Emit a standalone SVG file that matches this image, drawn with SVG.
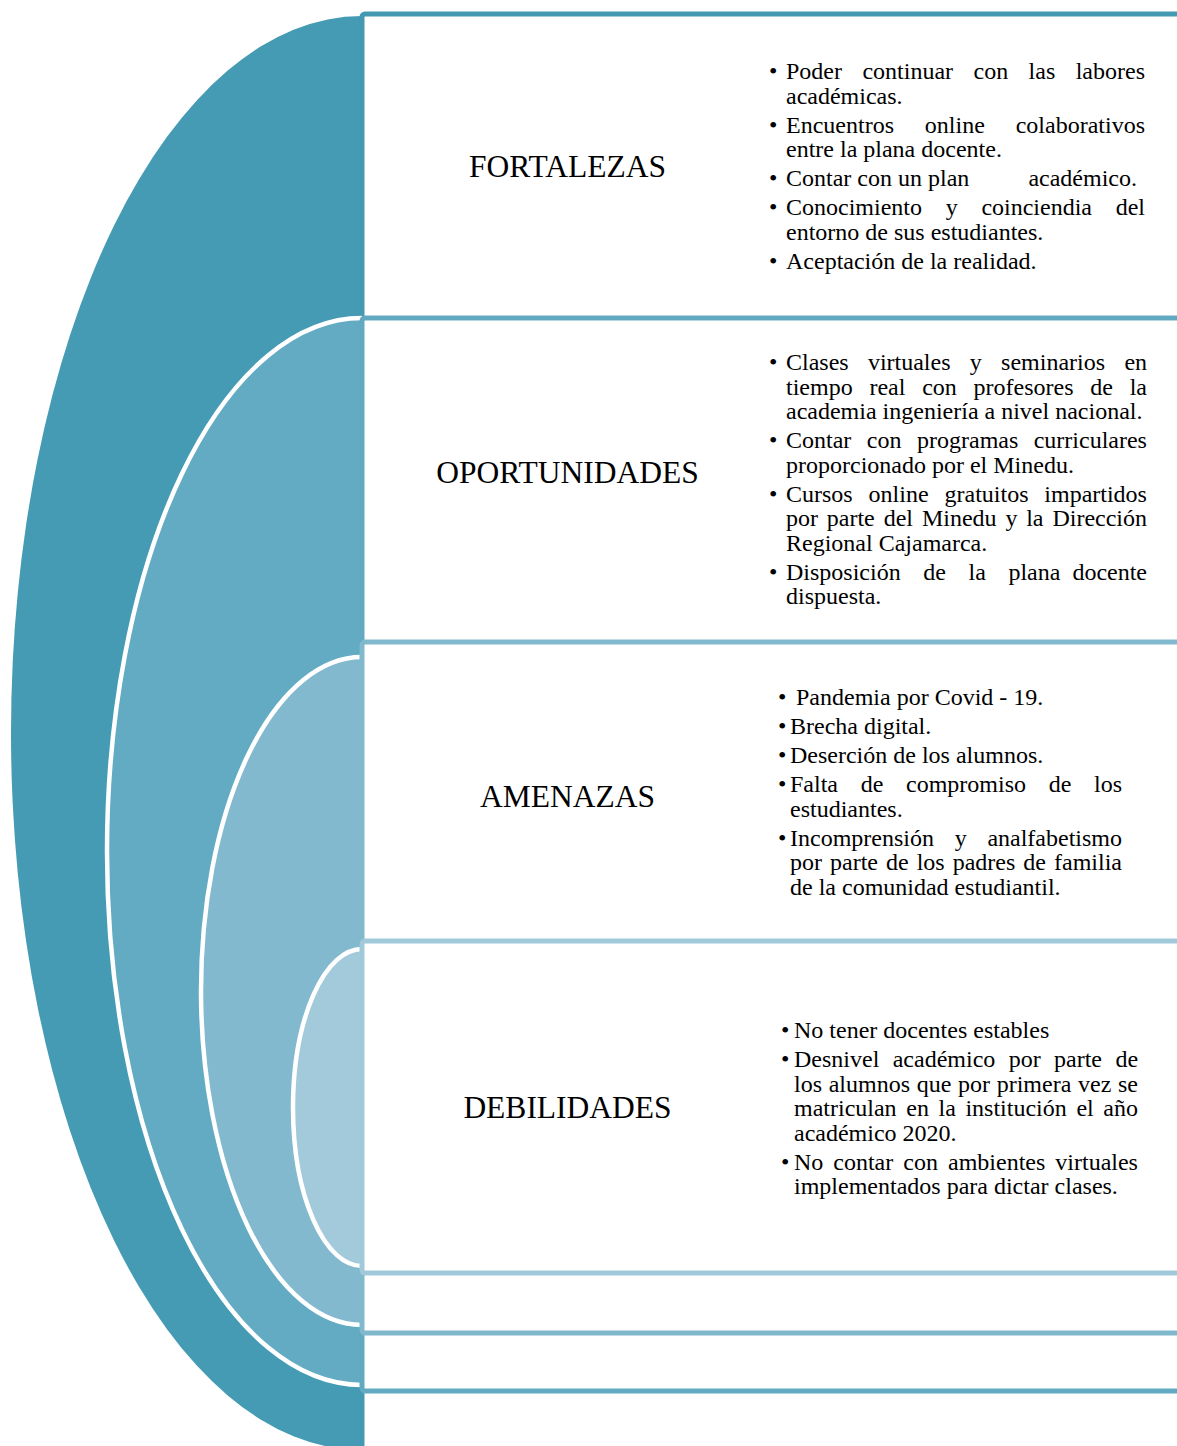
<svg xmlns="http://www.w3.org/2000/svg" width="1177" height="1446" viewBox="0 0 1177 1446">
<style>
.h{font-family:"Liberation Serif","Times New Roman",serif;font-size:31.5px;text-anchor:middle;fill:#000}
.b{font-family:"Liberation Serif","Times New Roman",serif;font-size:24px;fill:#000}
.arc{fill:none;stroke:#fff;stroke-width:4.5}
.box{fill:#fff;stroke-width:5}
</style>
<rect x="0" y="0" width="1177" height="1446" fill="#fff"/>
<g id="fortalezas">
<path d="M362,16 A351,717 0 0 0 362,1450 Z" fill="#449BB3"/>
<rect class="box" x="362" y="14" width="900" height="1500" rx="3" stroke="#4499B2"/>
<text class="h" x="567.5" y="176.5">FORTALEZAS</text>
<g class="b">
<text x="769" y="79">•</text><text x="769" y="132.5">•</text><text x="769" y="186">•</text><text x="769" y="215">•</text><text x="769" y="268.5">•</text>
<text y="79"><tspan x="786">Poder</tspan><tspan x="862.4">continuar</tspan><tspan x="973.5">con</tspan><tspan x="1028.6">las</tspan><tspan x="1075.7">labores</tspan></text>
<text x="786" y="103.5">académicas.</text>
<text y="132.5"><tspan x="786">Encuentros</tspan><tspan x="924.8">online</tspan><tspan x="1015.7">colaborativos</tspan></text>
<text x="786" y="157">entre la plana docente.</text>
<text y="186"><tspan x="786">Contar con un plan</tspan><tspan x="1028.4">académico.</tspan></text>
<text y="215"><tspan x="786">Conocimiento</tspan><tspan x="945.7">y</tspan><tspan x="981.4">coinciendia</tspan><tspan x="1115.7">del</tspan></text>
<text x="786" y="239.5">entorno de sus estudiantes.</text>
<text x="786" y="268.5">Aceptación de la realidad.</text>
</g>
</g>
<g id="oportunidades">
<path d="M362,318 A255,533.5 0 0 0 362,1385 Z" fill="#63ABC3"/>
<path class="arc" d="M362,318 A255,533.5 0 0 0 362,1385"/>
<rect class="box" x="362" y="318" width="900" height="1073" rx="3" stroke="#62AAC2"/>
<text class="h" x="567.5" y="483">OPORTUNIDADES</text>
<g class="b">
<text x="769" y="370">•</text><text x="769" y="448">•</text><text x="769" y="501.5">•</text><text x="769" y="579.5">•</text>
<text y="370"><tspan x="786">Clases</tspan><tspan x="867.9">virtuales</tspan><tspan x="969.8">y</tspan><tspan x="1001.1">seminarios</tspan><tspan x="1124.4">en</tspan></text>
<text y="394.5"><tspan x="786">tiempo</tspan><tspan x="869.4">real</tspan><tspan x="922.2">con</tspan><tspan x="973.6">profesores</tspan><tspan x="1090.3">de</tspan><tspan x="1129.7">la</tspan></text>
<text x="786" y="419">academia ingeniería a nivel nacional.</text>
<text y="448"><tspan x="786">Contar</tspan><tspan x="866.8">con</tspan><tspan x="917">programas</tspan><tspan x="1033.7">curriculares</tspan></text>
<text x="786" y="472.5">proporcionado por el Minedu.</text>
<text y="501.5"><tspan x="786">Cursos</tspan><tspan x="868.6">online</tspan><tspan x="944.5">gratuitos</tspan><tspan x="1044.3">impartidos</tspan></text>
<text y="526"><tspan x="786">por</tspan><tspan x="826.8">parte</tspan><tspan x="883.7">del</tspan><tspan x="921.9">Minedu</tspan><tspan x="1005.4">y</tspan><tspan x="1026.2">la</tspan><tspan x="1052.4">Dirección</tspan></text>
<text x="786" y="550.5">Regional Cajamarca.</text>
<text y="579.5"><tspan x="786">Disposición</tspan><tspan x="923.3">de</tspan><tspan x="968.5">la</tspan><tspan x="1008.4">plana</tspan><tspan x="1072.4">docente</tspan></text>
<text x="786" y="604">dispuesta.</text>
</g>
</g>
<g id="amenazas">
<path d="M362,657 A161,334 0 0 0 362,1325 Z" fill="#82B9CE"/>
<path class="arc" d="M362,657 A161,334 0 0 0 362,1325"/>
<rect class="box" x="362" y="642" width="900" height="691" rx="3" stroke="#80B8CD"/>
<text class="h" x="567.5" y="807">AMENAZAS</text>
<g class="b">
<text x="778" y="705">•</text><text x="778" y="734">•</text><text x="778" y="763">•</text><text x="778" y="792">•</text><text x="778" y="845.5">•</text>
<text x="796" y="705">Pandemia por Covid - 19.</text>
<text x="790" y="734">Brecha digital.</text>
<text x="790" y="763">Deserción de los alumnos.</text>
<text y="792"><tspan x="790">Falta</tspan><tspan x="860.7">de</tspan><tspan x="906">compromiso</tspan><tspan x="1048.7">de</tspan><tspan x="1094">los</tspan></text>
<text x="790" y="816.5">estudiantes.</text>
<text y="845.5"><tspan x="790">Incomprensión</tspan><tspan x="954.7">y</tspan><tspan x="987.4">analfabetismo</tspan></text>
<text y="870"><tspan x="790">por</tspan><tspan x="830">parte</tspan><tspan x="886">de</tspan><tspan x="916.7">los</tspan><tspan x="952.7">padres</tspan><tspan x="1023.3">de</tspan><tspan x="1054">familia</tspan></text>
<text x="790" y="894.5">de la comunidad estudiantil.</text>
</g>
</g>
<g id="debilidades">
<path d="M362,949 A69,158.5 0 0 0 362,1266 Z" fill="#A2CADA"/>
<path class="arc" d="M362,949 A69,158.5 0 0 0 362,1266"/>
<rect class="box" x="362" y="941" width="900" height="332" rx="3" stroke="#A0C9D9"/>
<text class="h" x="567.5" y="1118">DEBILIDADES</text>
<g class="b">
<text x="781" y="1038">•</text><text x="781" y="1067">•</text><text x="781" y="1169.5">•</text>
<text x="794" y="1038">No tener docentes estables</text>
<text y="1067"><tspan x="794">Desnivel</tspan><tspan x="892.7">académico</tspan><tspan x="1008.7">por</tspan><tspan x="1054">parte</tspan><tspan x="1115.4">de</tspan></text>
<text y="1091.5"><tspan x="794">los</tspan><tspan x="828.7">alumnos</tspan><tspan x="916.7">que</tspan><tspan x="958">por</tspan><tspan x="996.7">primera</tspan><tspan x="1078">vez</tspan><tspan x="1118">se</tspan></text>
<text y="1116"><tspan x="794">matriculan</tspan><tspan x="906.3">en</tspan><tspan x="938.5">la</tspan><tspan x="965.4">institución</tspan><tspan x="1076.4">el</tspan><tspan x="1103.3">año</tspan></text>
<text x="794" y="1140.5">académico 2020.</text>
<text y="1169.5"><tspan x="794">No</tspan><tspan x="833.3">contar</tspan><tspan x="903.3">con</tspan><tspan x="948">ambientes</tspan><tspan x="1055.3">virtuales</tspan></text>
<text x="794" y="1194">implementados para dictar clases.</text>
</g>
</g>
<g id="connectors"/>
</svg>
